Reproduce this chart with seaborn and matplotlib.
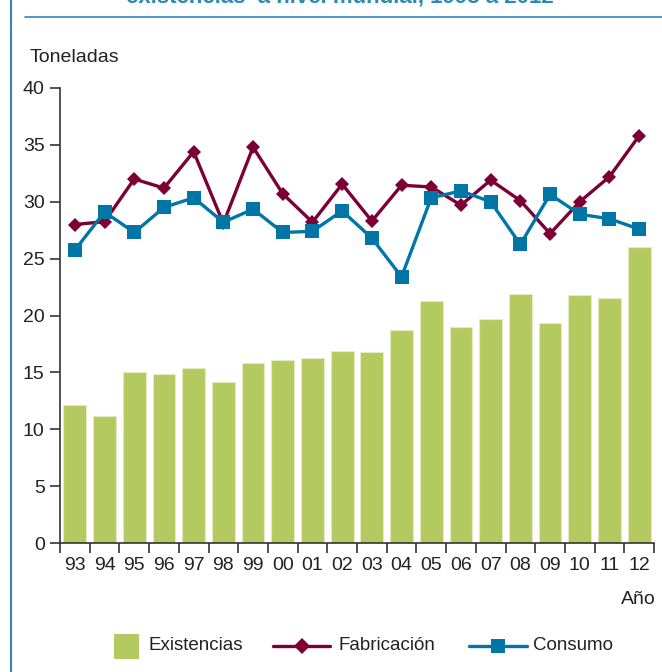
import matplotlib
matplotlib.use("Agg")
import matplotlib.pyplot as plt
from matplotlib.lines import Line2D
from matplotlib.patches import Rectangle
from matplotlib.ticker import FixedLocator
import seaborn as sns
import pandas as pd
import numpy as np

# Data: world stocks, production and consumption (tonnes), 1993-2012
years = ["93", "94", "95", "96", "97", "98", "99", "00", "01", "02",
         "03", "04", "05", "06", "07", "08", "09", "10", "11", "12"]
existencias = [12.1, 11.2, 15.0, 14.85, 15.35, 14.15, 15.8, 16.1, 16.3, 16.9,
               16.75, 18.7, 21.3, 19.0, 19.7, 21.85, 19.35, 21.8, 21.55, 26.0]
fabricacion = [28.0, 28.25, 32.0, 31.2, 34.4, 28.1, 34.8, 30.7, 28.2, 31.55,
               28.3, 31.45, 31.3, 29.7, 31.9, 30.1, 27.2, 30.0, 32.2, 35.8]
consumo = [25.75, 29.1, 27.3, 29.5, 30.35, 28.2, 29.35, 27.3, 27.4, 29.2,
           26.8, 23.4, 30.35, 30.95, 30.0, 26.25, 30.65, 28.9, 28.5, 27.6]
series_names = ["Existencias", "Fabricación", "Consumo"]

GREEN = "#B5C961"
MAROON = "#7C0034"
BLUE = "#0076A6"
FRAME = "#2A89B5"
TEXT = "#222222"
FS = 13

W, H = 662, 672

sns.set_theme(style="white")
plt.rcParams["font.family"] = ["Liberation Sans", "DejaVu Sans"]

df = pd.DataFrame({"anio": years, "existencias": existencias,
                   "fabricacion": fabricacion, "consumo": consumo})
df["pos"] = np.arange(len(years))


def fx(px):
    return px / W


def fy(py):
    return 1 - py / H


fig = plt.figure(figsize=(W / 100, H / 100), dpi=100)
ax = fig.add_axes([fx(60), fy(543), 594 / W, 455 / H])

sns.barplot(data=df, x="anio", y="existencias", color=GREEN, width=0.77,
            edgecolor="#E3EBC0", linewidth=0.8, saturation=1, ax=ax, zorder=2)
sns.lineplot(data=df, x="pos", y="fabricacion", color=MAROON, lw=2.4,
             marker="D", markersize=7, markeredgewidth=0, ax=ax, zorder=3)
sns.lineplot(data=df, x="pos", y="consumo", color=BLUE, lw=2.4,
             marker="s", markersize=10, markeredgewidth=0, ax=ax, zorder=4)

ax.set_xlim(-0.5, len(years) - 0.5)
ax.set_ylim(0, 40)
ax.set_xlabel("")
ax.set_ylabel("")

# Axes styling
for side in ("top", "right"):
    ax.spines[side].set_visible(False)
for side in ("left", "bottom"):
    ax.spines[side].set_color("#333333")
    ax.spines[side].set_linewidth(1.2)

ax.set_yticks(np.arange(0, 41, 5))
ax.tick_params(axis="y", which="major", direction="out", length=7, width=1.2,
               color="#333333", labelsize=FS + 1, labelcolor=TEXT, pad=4,
               left=True)
ax.set_xticks(df["pos"])
ax.set_xticklabels(years)
ax.xaxis.set_minor_locator(FixedLocator(np.arange(-0.5, len(years), 1.0)))
ax.tick_params(axis="x", which="major", length=0, labelsize=FS + 1,
               labelcolor=TEXT, pad=10)
ax.tick_params(axis="x", which="minor", direction="out", length=7, width=1.2,
               color="#333333", bottom=True)
ax.grid(False)

# Axis captions
fig.text(fx(30), fy(62), "Toneladas", fontsize=FS + 1, color=TEXT,
         ha="left", va="baseline")
fig.text(fx(656), fy(604), "Año", fontsize=FS + 1, color=TEXT,
         ha="right", va="baseline")

# Title (upper part of the panel)
fig.text(fx(340), fy(3), "existencias  a nivel mundial, 1993 a 2012",
         fontsize=16, fontweight="bold", color=FRAME, ha="center",
         va="baseline")

# Panel frame lines
fig.add_artist(Line2D([fx(11), fx(11)], [0, 1], transform=fig.transFigure,
                      color=FRAME, lw=1.5))
fig.add_artist(Line2D([fx(25), 1], [fy(17), fy(17)],
                      transform=fig.transFigure, color=FRAME, lw=1.2))

# Legend row
ly = fy(646)
fig.add_artist(Rectangle((fx(114), fy(659)), 25 / W, 25 / H,
                         transform=fig.transFigure, facecolor=GREEN,
                         edgecolor="none"))
fig.text(fx(148), ly, series_names[0], fontsize=FS + 0.5, color=TEXT,
         ha="left", va="center")
fig.add_artist(Line2D([fx(273), fx(330)], [ly, ly], transform=fig.transFigure,
                      color=MAROON, lw=2.4))
fig.add_artist(Line2D([fx(301.5)], [ly], transform=fig.transFigure,
                      color=MAROON, lw=0, marker="D", markersize=8.5,
                      markeredgewidth=0))
fig.text(fx(338), ly, series_names[1], fontsize=FS + 0.5, color=TEXT,
         ha="left", va="center")
fig.add_artist(Line2D([fx(469), fx(527)], [ly, ly], transform=fig.transFigure,
                      color=BLUE, lw=2.4))
fig.add_artist(Line2D([fx(498)], [ly], transform=fig.transFigure,
                      color=BLUE, lw=0, marker="s", markersize=10,
                      markeredgewidth=0))
fig.text(fx(533), ly, series_names[2], fontsize=FS + 0.5, color=TEXT,
         ha="left", va="center")

fig.savefig("out.png", dpi=100)
